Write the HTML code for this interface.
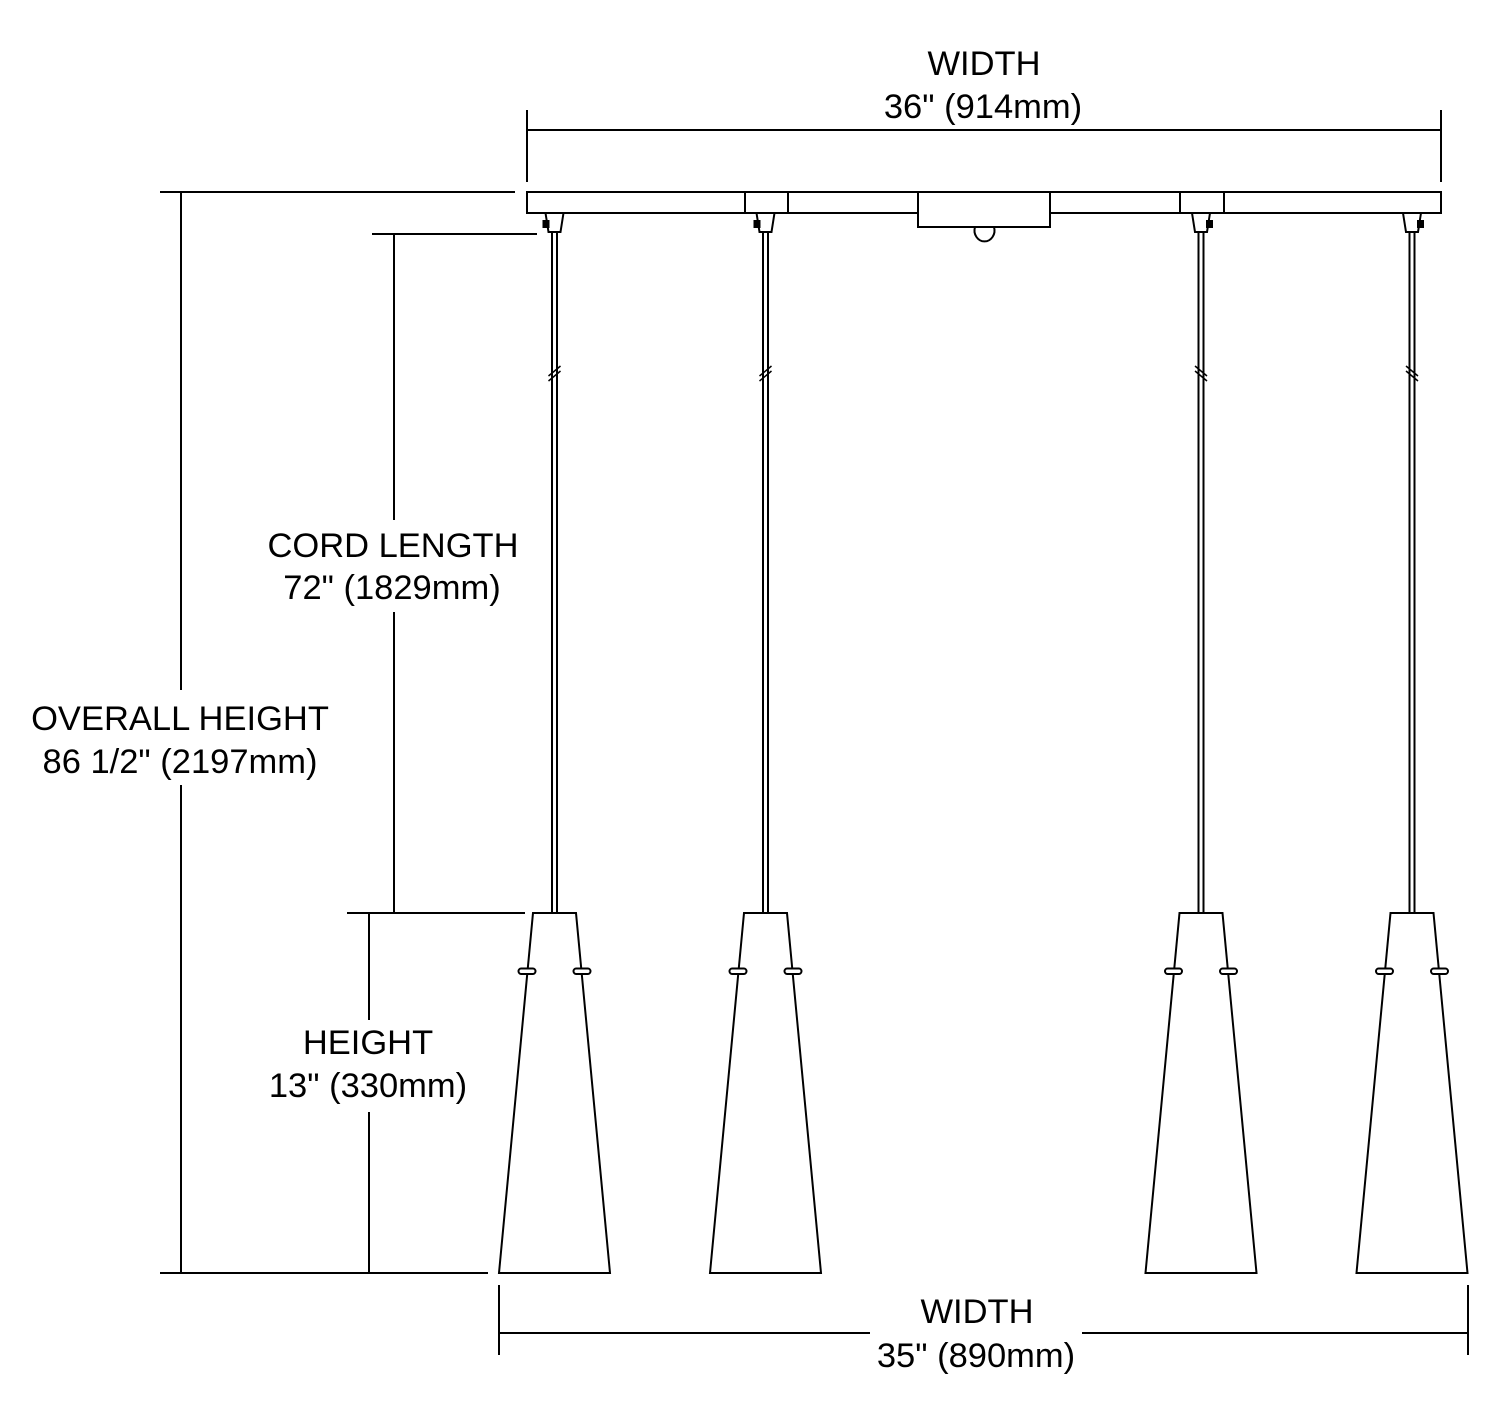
<!DOCTYPE html>
<html><head><style>body{margin:0;background:#fff}svg{display:block}</style></head><body>
<svg width="1500" height="1424" viewBox="0 0 1500 1424" xmlns="http://www.w3.org/2000/svg" font-family="Liberation Sans, Arial, sans-serif" font-size="34.5" fill="none" stroke="#000" stroke-width="2">
<defs>
<g id="p">
  <path d="M-9 213 L-6 232 L6 232 L9 213"/>
  <rect x="-11" y="221" width="5" height="6" fill="#000"/>
  <line x1="-2.5" y1="232" x2="-2.5" y2="913"/>
  <line x1="2.5" y1="232" x2="2.5" y2="913"/>
  <line x1="-6" y1="376" x2="6" y2="366" stroke-width="1.5"/>
  <line x1="-6" y1="381" x2="6" y2="371" stroke-width="1.5"/>
  <path d="M-21.5 913 L21.5 913 L55.5 1273 L-55.5 1273 Z"/>
  <rect x="-36" y="968.5" width="17" height="5.5" rx="2.7" fill="#fff" stroke-width="2"/>
  <rect x="19" y="968.5" width="17" height="5.5" rx="2.7" fill="#fff" stroke-width="2"/>
</g>
</defs>
<rect x="527" y="192" width="914" height="21"/>
<line x1="745" y1="192" x2="745" y2="213"/><line x1="788" y1="192" x2="788" y2="213"/>
<line x1="1180" y1="192" x2="1180" y2="213"/><line x1="1224" y1="192" x2="1224" y2="213"/>
<rect x="918" y="192" width="132" height="35" fill="#fff"/>
<path d="M975 227 A10 11 0 1 0 994 227"/>
<use href="#p" transform="translate(554.5,0)"/>
<use href="#p" transform="translate(765.5,0)"/>
<use href="#p" transform="translate(1201,0) scale(-1,1)"/>
<use href="#p" transform="translate(1412,0) scale(-1,1)"/>
<line x1="527" y1="130" x2="1441" y2="130"/>
<line x1="527" y1="110" x2="527" y2="182"/><line x1="1441" y1="110" x2="1441" y2="182"/>
<line x1="499" y1="1333" x2="870" y2="1333"/><line x1="1082" y1="1333" x2="1468" y2="1333"/>
<line x1="499" y1="1285" x2="499" y2="1355"/><line x1="1468" y1="1285" x2="1468" y2="1355"/>
<line x1="160" y1="192" x2="515" y2="192"/><line x1="160" y1="1273" x2="488" y2="1273"/>
<line x1="181" y1="192" x2="181" y2="690"/><line x1="181" y1="785" x2="181" y2="1273"/>
<line x1="372" y1="234" x2="537" y2="234"/><line x1="347" y1="913" x2="525" y2="913"/>
<line x1="394" y1="234" x2="394" y2="520"/><line x1="394" y1="612" x2="394" y2="913"/>
<line x1="369" y1="913" x2="369" y2="1020"/><line x1="369" y1="1112" x2="369" y2="1273"/>
<g fill="#000" stroke="none" text-anchor="middle">
<text x="984" y="75">WIDTH</text><text x="983" y="118">36" (914mm)</text>
<text x="977" y="1323">WIDTH</text><text x="976" y="1367">35" (890mm)</text>
<text x="180" y="730">OVERALL HEIGHT</text><text x="180" y="773">86 1/2" (2197mm)</text>
<text x="393" y="557">CORD LENGTH</text><text x="392" y="599">72" (1829mm)</text>
<text x="368" y="1054">HEIGHT</text><text x="368" y="1097">13" (330mm)</text>
</g>
</svg>
</body></html>
